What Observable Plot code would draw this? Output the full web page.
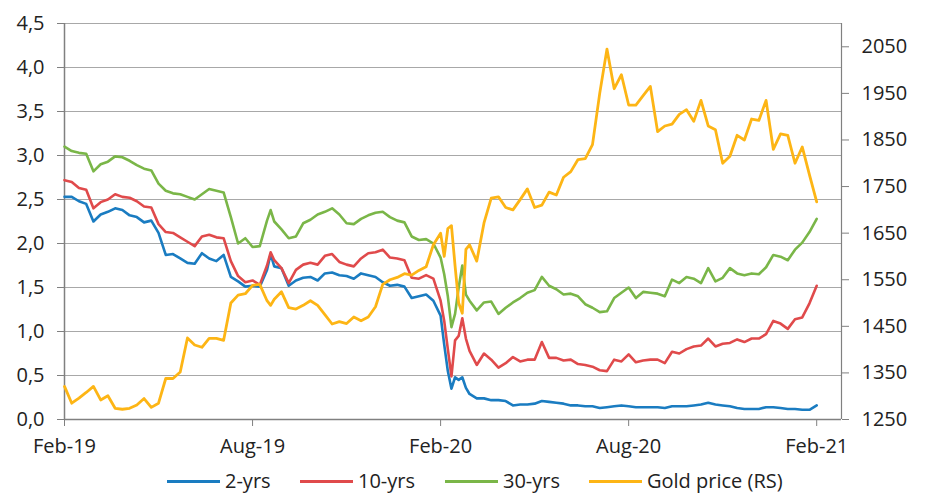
<!DOCTYPE html>
<html><head><meta charset="utf-8">
<script src="https://cdn.jsdelivr.net/npm/d3@7"></script>
<script src="https://cdn.jsdelivr.net/npm/@observablehq/plot@0.6"></script>
<style>
body{margin:0;background:#fff;font-family:"Open Sans",sans-serif;}
#wrap{position:relative;width:925px;height:493px;}
#chart{position:absolute;left:0;top:0;}
#legend .item{position:absolute;top:469px;display:flex;align-items:center;font-size:20px;line-height:24px;color:#222;white-space:nowrap;}
#legend .sw{width:53px;height:3px;margin-right:5px;}
</style></head><body><div id="wrap"><div id="chart"></div><div id="legend"></div></div>
<script>
// week offsets from the first observation (27 Feb 2019)
const weeks = [0,1,2,3,4,5,6,7,8,9,10,11,12,13,14,15,16,17,18,19,20,21,22,23,24,25,26,27,28,28.5,
  29,30,31,32,33,34,35,36,37,38,39,40,41,42,43,44,45,46,47,48,49,50,51,52,
  52.5,53,53.5,54,54.5,55,55.5,
  56,57,58,59,60,61,62,63,64,65,66,67,68,69,70,71,72,73,74,75,76,77,78,79,80,
  81,82,83,84,85,86,87,88,89,90,91,92,93,94,95,96,97,98,99,100,101,102,103,104];

const yr2 = [2.53,2.53,2.48,2.45,2.25,2.33,2.36,2.40,2.38,2.32,
  2.30,2.24,2.26,2.12,1.87,1.88,1.83,1.78,1.77,1.89,
  1.83,1.80,1.87,1.62,1.57,1.51,1.52,1.51,1.70,1.88,
  1.74,1.72,1.52,1.58,1.61,1.62,1.58,1.66,1.67,1.64,
  1.63,1.60,1.66,1.64,1.62,1.56,1.52,1.53,1.51,1.38,
  1.40,1.42,1.35,1.18,
  0.85,0.55,0.35,0.48,0.45,0.48,0.36,
  0.29,0.24,0.24,0.22,0.22,0.21,0.16,0.17,0.17,0.18,
  0.21,0.20,0.19,0.18,0.16,0.16,0.15,0.15,0.13,0.14,
  0.15,0.16,0.15,0.14,0.14,0.14,0.14,0.13,0.15,0.15,
  0.15,0.16,0.17,0.19,0.17,0.16,0.15,0.13,0.12,0.12,
  0.12,0.14,0.14,0.13,0.12,0.12,0.11,0.11,0.16];

const yr10 = [2.72,2.70,2.63,2.61,2.40,2.47,2.50,2.56,2.53,2.52,
  2.48,2.42,2.41,2.22,2.13,2.12,2.07,2.02,1.97,2.08,
  2.10,2.07,2.06,1.80,1.63,1.56,1.58,1.53,1.75,1.90,
  1.81,1.72,1.55,1.70,1.76,1.78,1.76,1.86,1.88,1.79,
  1.76,1.74,1.83,1.89,1.90,1.93,1.84,1.83,1.81,1.61,
  1.60,1.64,1.60,1.35,
  1.12,0.80,0.49,0.90,0.95,1.15,0.92,
  0.78,0.62,0.75,0.68,0.59,0.64,0.71,0.66,0.68,0.68,
  0.88,0.70,0.70,0.67,0.68,0.63,0.62,0.60,0.56,0.55,
  0.68,0.66,0.74,0.65,0.67,0.68,0.68,0.64,0.77,0.75,
  0.80,0.83,0.84,0.92,0.83,0.86,0.87,0.91,0.88,0.92,
  0.92,0.97,1.12,1.09,1.03,1.14,1.16,1.32,1.52];

const yr30 = [3.10,3.05,3.03,3.02,2.82,2.90,2.93,2.99,2.98,2.94,
  2.89,2.85,2.83,2.68,2.60,2.57,2.56,2.53,2.50,2.56,
  2.62,2.60,2.58,2.30,2.00,2.06,1.96,1.97,2.26,2.38,
  2.25,2.16,2.06,2.08,2.23,2.27,2.33,2.36,2.40,2.33,
  2.23,2.22,2.28,2.32,2.35,2.36,2.30,2.26,2.24,2.08,
  2.04,2.05,2.00,1.84,
  1.65,1.40,1.05,1.20,1.50,1.75,1.42,
  1.35,1.24,1.33,1.34,1.20,1.27,1.33,1.38,1.44,1.47,
  1.62,1.52,1.48,1.42,1.43,1.40,1.31,1.27,1.22,1.23,
  1.38,1.44,1.50,1.38,1.45,1.44,1.43,1.40,1.59,1.55,
  1.62,1.60,1.55,1.72,1.57,1.61,1.72,1.66,1.64,1.66,
  1.65,1.73,1.87,1.85,1.81,1.93,2.01,2.13,2.28];

const gold = [1321,1285,1296,1308,1321,1292,1301,1274,1272,1274,
  1281,1295,1276,1285,1338,1338,1352,1425,1410,1405,
  1424,1424,1420,1500,1517,1520,1538,1540,1505,1495,
  1508,1524,1490,1487,1495,1505,1495,1475,1455,1460,
  1456,1470,1462,1470,1492,1540,1550,1555,1563,1560,
  1570,1578,1625,1650,
  1600,1660,1666,1580,1500,1478,1615,
  1625,1590,1672,1725,1728,1705,1700,1722,1745,1705,
  1710,1738,1732,1770,1782,1808,1810,1840,1950,2045,
  1960,1990,1925,1925,1945,1965,1868,1880,1884,1905,
  1915,1890,1935,1880,1872,1800,1815,1860,1850,1895,
  1892,1935,1830,1863,1860,1800,1835,1775,1717];

const leftTicks = [0,0.5,1,1.5,2,2.5,3,3.5,4,4.5];
const goldTicks = [1250,1350,1450,1550,1650,1750,1850,1950,2050];
const goldDomain = [1250,2100];
const tickWeeks = [0,26,52,78,104];
const seriesNames = ["2-yrs","10-yrs","30-yrs","Gold price (RS)"];
const seriesColors = ["#1a7cc1","#e04a4b","#7ab648","#fdb515"];

const DAY = 864e5;
const start = Date.UTC(2019,1,27);
const wDate = w => new Date(start + w*7*DAY);
const dates = weeks.map(wDate);
const g2y = g => (g - goldDomain[0])/(goldDomain[1]-goldDomain[0])*4.5;
const y2g = y => String(Math.round(goldDomain[0] + y/4.5*(goldDomain[1]-goldDomain[0])));
const rows = vals => vals.map((v,i)=>({date:dates[i], v}));
const fmtL = d => d.toFixed(1).replace(".", ",");

const axisColor = "#808080";
const chart = Plot.plot({
  width:925, height:466,
  marginLeft:64, marginRight:84, marginTop:23, marginBottom:47,
  style:{fontFamily:"'Open Sans', sans-serif", fontSize:"20px", color:"#222", background:"transparent"},
  x:{type:"utc", domain:[new Date(start), new Date(start+752*DAY)], axis:null},
  y:{domain:[0,4.5], axis:null},
  marks:[
    Plot.ruleY(leftTicks.filter(d=>d>0), {stroke:"#a8a8a8", strokeWidth:1}),
    Plot.ruleX([new Date(start+752*DAY)], {stroke:axisColor, strokeWidth:1.2}),
    Plot.ruleX([new Date(start)], {stroke:axisColor, strokeWidth:1.5}),
    Plot.ruleY([0], {stroke:axisColor, strokeWidth:1.5}),
    Plot.axisY(leftTicks, {anchor:"left", label:null, tickSize:7, tickPadding:13, tickFormat:fmtL, stroke:axisColor}),
    Plot.axisY(goldTicks.map(g2y), {anchor:"right", label:null, tickSize:7, tickPadding:13, tickFormat:y2g, stroke:axisColor}),
    Plot.axisX(tickWeeks.map(wDate), {anchor:"bottom", label:null, tickSize:7, tickPadding:12, tickFormat:d3.utcFormat("%b-%y"), stroke:axisColor}),
    Plot.line(rows(yr2), {x:"date", y:"v", stroke:seriesColors[0], strokeWidth:2.6, strokeLinejoin:"round"}),
    Plot.line(rows(yr10), {x:"date", y:"v", stroke:seriesColors[1], strokeWidth:2.6, strokeLinejoin:"round"}),
    Plot.line(rows(yr30), {x:"date", y:"v", stroke:seriesColors[2], strokeWidth:2.6, strokeLinejoin:"round"}),
    Plot.line(rows(gold), {x:"date", y:d=>g2y(d.v), stroke:seriesColors[3], strokeWidth:2.8, strokeLinejoin:"round"})
  ]
});
document.getElementById("chart").appendChild(chart);

const legendLefts = [167, 300, 445, 589];
const leg = document.getElementById("legend");
seriesNames.forEach((n,i)=>{
  const it = document.createElement("div");
  it.className = "item";
  it.style.left = legendLefts[i] + "px";
  it.innerHTML = `<div class="sw" style="background:${seriesColors[i]}"></div><span>${n}</span>`;
  leg.appendChild(it);
});
</script></body></html>
